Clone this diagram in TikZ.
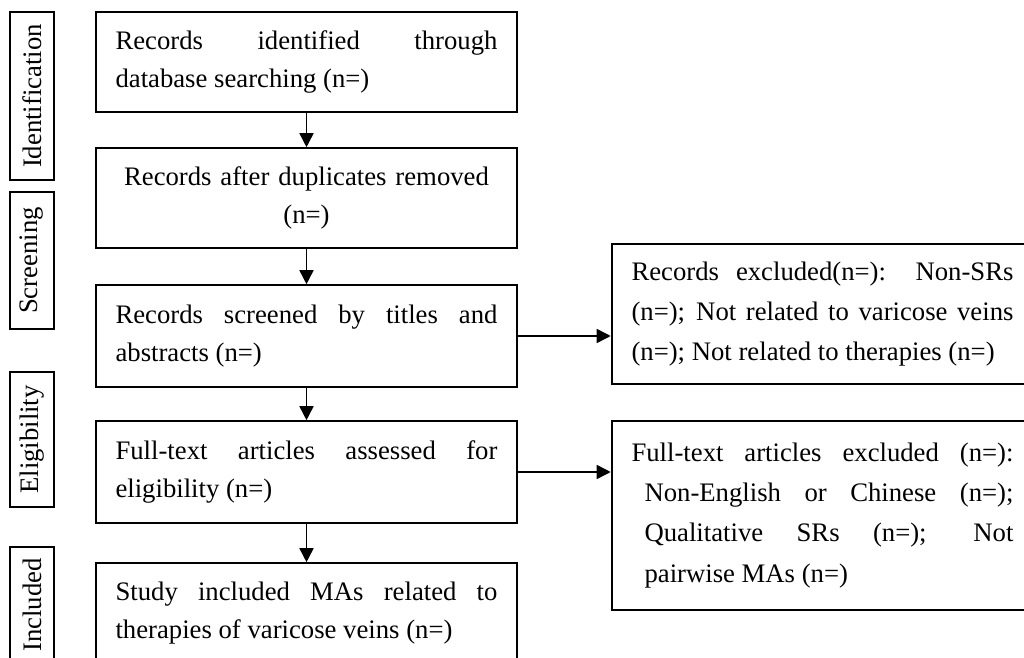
\documentclass[tikz,border=0pt]{standalone}
\usepackage{fontspec}
\setmainfont{Liberation Serif}
\usepackage{tikz}
\usetikzlibrary{arrows.meta,positioning}

\begin{document}
\begin{tikzpicture}[x=0.02cm,y=-0.02cm,font=\fontsize{15.2pt}{22pt}\selectfont,
	flow/.style={rectangle,draw=black,line width=0.9pt,text width=7.64cm,inner xsep=0.39cm,inner ysep=0pt,minimum height=2cm,align=justify},
	excl/.style={flow,line width=1.5pt,font=\fontsize{15.2pt}{22.8pt}\selectfont},
	stage/.style={rectangle,draw=black,line width=1.6pt,rotate=90,minimum height=0.88cm,inner sep=2pt},
	arr/.style={-{Triangle[length=8pt,width=8pt]},line width=0.9pt}]
	\useasboundingbox (0,0) rectangle (1024,658);
	\tolerance=10000 \hyphenpenalty=10000
	% stages
	\node[stage,minimum width=3.36cm] (sId) at (32,96) {Identification};
	\node[stage,minimum width=2.74cm] (sSc) at (32,260.5) {Screening};
	\node[stage,minimum width=2.7cm] (sEl) at (32,439.5) {Eligibility};
	\node[stage,minimum width=2.32cm] (sIn) at (32,605) {Included};
	% main column
	\node[flow] (ident) at (306.5,62) {Records identified through\linebreak database searching (n=)};
	\node[flow,align=center] (dupl) at (306.5,198) {Records after duplicates removed\\(n=)};
	\node[flow,minimum height=2.04cm] (screen) at (306.5,336) {Records screened by titles and\linebreak abstracts (n=)};
	\node[flow,minimum height=2.04cm] (elig) at (306.5,472) {Full-text articles assessed for\linebreak eligibility (n=)};
	\node[flow] (incl) at (306.5,613) {Study included MAs related to\linebreak therapies of varicose veins (n=)};
	% exclusions
	\node[excl,minimum height=2.8cm] (exA) at (822.5,314) {Records excluded(n=): Non-SRs\linebreak (n=); Not related to varicose veins\linebreak (n=); Not related to therapies (n=)};
	\node[excl,minimum height=3.78cm] (exB) at (822.5,515.5) {\hangindent=0.26cm\hangafter=1 Full-text articles excluded (n=):\linebreak Non-English or Chinese (n=);\linebreak Qualitative SRs (n=); Not\linebreak pairwise MAs (n=)\par};
	\draw[arr] (ident) -- (dupl);
	\draw[arr] (dupl) -- (screen);
	\draw[arr] (screen) -- (elig);
	\draw[arr] (elig) -- (incl);
	\draw[arr] (screen.east) -- (screen.east -| exA.west);
	\draw[arr] (elig.east) -- (elig.east -| exB.west);
\end{tikzpicture}
\end{document}
